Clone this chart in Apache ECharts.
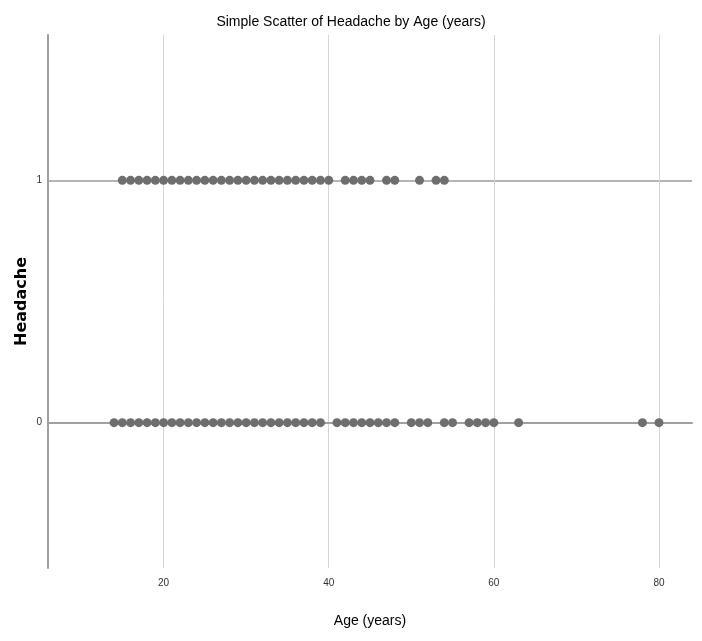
<!DOCTYPE html>
<html><head><meta charset="utf-8">
<script src="https://cdn.jsdelivr.net/npm/echarts@6/dist/echarts.min.js"></script>
<style>html,body{margin:0;padding:0;background:#fff}#c{width:702px;height:641px}</style>
</head><body><div id="c"></div>
<script>
const ageHeadache1 = [15,16,17,18,19,20,21,22,23,24,25,26,27,28,29,30,31,32,33,34,35,36,37,38,39,40,42,43,44,45,47,48,51,53,54];
const ageHeadache0 = [14,15,16,17,18,19,20,21,22,23,24,25,26,27,28,29,30,31,32,33,34,35,36,37,38,39,41,42,43,44,45,46,47,48,50,51,52,54,55,57,58,59,60,63,78,80];
const xTicks = [20,40,60,80];
const yTicks = [0,1];

const data = ageHeadache1.map(a => [a, 1]).concat(ageHeadache0.map(a => [a, 0]));
const narrow = "'Liberation Sans Narrow','Arial Narrow','Liberation Sans',sans-serif";
const chart = echarts.init(document.getElementById('c'), null, {renderer:'canvas'});
chart.setOption({
  animation:false,
  backgroundColor:'#fff',
  title:{text:'Simple Scatter of Headache by Age (years)', left:'center', top:10,
    textStyle:{fontFamily:narrow, fontSize:14, fontWeight:'normal', color:'#000'}},
  grid:{left:48, right:10, top:35, bottom:73},
  xAxis:{type:'value', min:6, max:84, name:'Age (years)', nameLocation:'middle', nameGap:46,
    nameTextStyle:{fontFamily:narrow, fontSize:14, color:'#000'},
    axisLine:{show:true, lineStyle:{color:'#a0a0a0', width:2}},
    axisTick:{show:false, customValues:xTicks},
    axisLabel:{customValues:xTicks, fontFamily:narrow, fontSize:10, color:'#333', margin:10},
    splitLine:{show:true, lineStyle:{color:'#d4d4d4', width:1}}},
  yAxis:{type:'value', min:-0.6, max:1.6, name:'Headache', nameLocation:'middle', nameGap:18, nameRotate:90,
    nameMoveOverlap:false,
    nameTextStyle:{fontFamily:"'DejaVu Sans',sans-serif", fontSize:16, fontWeight:'bold', color:'#000'},
    axisLine:{show:true, lineStyle:{color:'#a0a0a0', width:2}},
    axisTick:{show:false, customValues:yTicks},
    axisLabel:{customValues:yTicks, fontFamily:narrow, fontSize:10, color:'#333', margin:6},
    splitLine:{show:true, lineStyle:{color:'#b4b4b4', width:2}}},
  series:[{type:'scatter', data:data, symbol:'circle', symbolSize:9,
    itemStyle:{color:'#6e6e6e', opacity:1}}]
});
</script></body></html>
